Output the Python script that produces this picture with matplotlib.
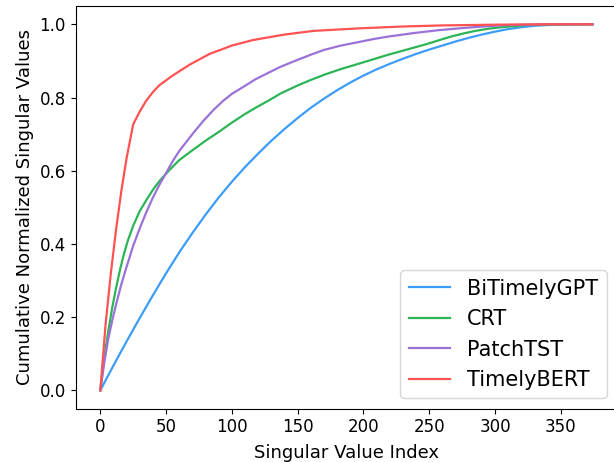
import matplotlib
matplotlib.use("Agg")
import matplotlib.pyplot as plt

# values (index, cumulative normalized singular value)
bitimelygpt_x = [0, 10, 20, 30, 40, 50, 60, 70, 80, 90, 100, 110, 120, 130, 140, 150, 160, 170, 180,
                 190, 200, 210, 220, 230, 240, 250, 260, 270, 280, 290, 300, 310, 320, 330, 340, 350, 360, 374]
bitimelygpt_y = [0, 0.068, 0.134, 0.198, 0.26, 0.32, 0.377, 0.43, 0.48, 0.527, 0.57, 0.61, 0.647, 0.682,
                 0.714, 0.744, 0.772, 0.797, 0.82, 0.841, 0.86, 0.877, 0.892, 0.906, 0.919, 0.931, 0.942,
                 0.953, 0.963, 0.972, 0.98, 0.987, 0.992, 0.996, 0.998, 0.9995, 1.0, 1.0]

crt_x = [0, 3, 6, 9, 12, 15, 18, 21, 25, 30, 35, 40, 45, 52, 60, 70, 80, 90, 99, 110, 118, 128, 137,
         150, 160, 170, 183, 197, 208, 218, 228, 238, 248, 257, 266, 276, 285, 295, 305, 314, 325, 340, 374]
crt_y = [0, 0.09, 0.16, 0.225, 0.28, 0.33, 0.373, 0.41, 0.45, 0.49, 0.52, 0.548, 0.572, 0.60, 0.629,
         0.656, 0.682, 0.706, 0.729, 0.755, 0.772, 0.792, 0.811, 0.833, 0.848, 0.862, 0.878, 0.893, 0.905,
         0.916, 0.926, 0.936, 0.946, 0.956, 0.966, 0.975, 0.982, 0.988, 0.992, 0.995, 0.998, 0.9995, 1.0]

patchtst_x = [0, 3, 6, 9, 12, 16, 20, 25, 30, 35, 40, 45, 50, 55, 60, 70, 78, 86, 93, 100, 110, 118,
              128, 137, 150, 160, 170, 183, 197, 208, 218, 228, 238, 257, 276, 295, 310, 340, 374]
patchtst_y = [0, 0.075, 0.14, 0.19, 0.235, 0.29, 0.338, 0.395, 0.443, 0.487, 0.527, 0.562, 0.594, 0.626,
              0.654, 0.70, 0.735, 0.766, 0.79, 0.81, 0.832, 0.85, 0.868, 0.884, 0.903, 0.917, 0.93,
              0.942, 0.952, 0.96, 0.966, 0.971, 0.976, 0.984, 0.99, 0.995, 0.998, 1.0, 1.0]

timelybert_x = [0, 4, 8, 12, 16, 20, 25, 30, 35, 40, 45, 55, 68, 83, 100, 116, 140, 162, 197, 230, 260, 300, 340, 374]
timelybert_y = [0, 0.18, 0.32, 0.44, 0.545, 0.635, 0.727, 0.762, 0.792, 0.815, 0.834, 0.86, 0.89,
                0.919, 0.942, 0.957, 0.972, 0.982, 0.989, 0.994, 0.997, 0.999, 1.0, 1.0]

labels = ["BiTimelyGPT", "CRT", "PatchTST", "TimelyBERT"]
colors = ["#3d9df6", "#2cb556", "#9a72d8", "#ff5252"]

fig = plt.figure(figsize=(6.14, 4.62), dpi=100)
ax = fig.add_axes([0.1233, 0.1154, 0.8816, 0.8716])

series = [(bitimelygpt_x, bitimelygpt_y), (crt_x, crt_y),
          (patchtst_x, patchtst_y), (timelybert_x, timelybert_y)]
for (xs, ys), lab, c in zip(series, labels, colors):
    ax.plot(xs, ys, color=c, lw=1.6, label=lab)

ax.set_xlabel("Singular Value Index", fontsize=13, labelpad=5.5)
ax.set_ylabel("Cumulative Normalized Singular Values", fontsize=13)
ax.tick_params(labelsize=12)
ax.legend(loc="lower right", fontsize=15)

fig.savefig("out.png", dpi=100)
